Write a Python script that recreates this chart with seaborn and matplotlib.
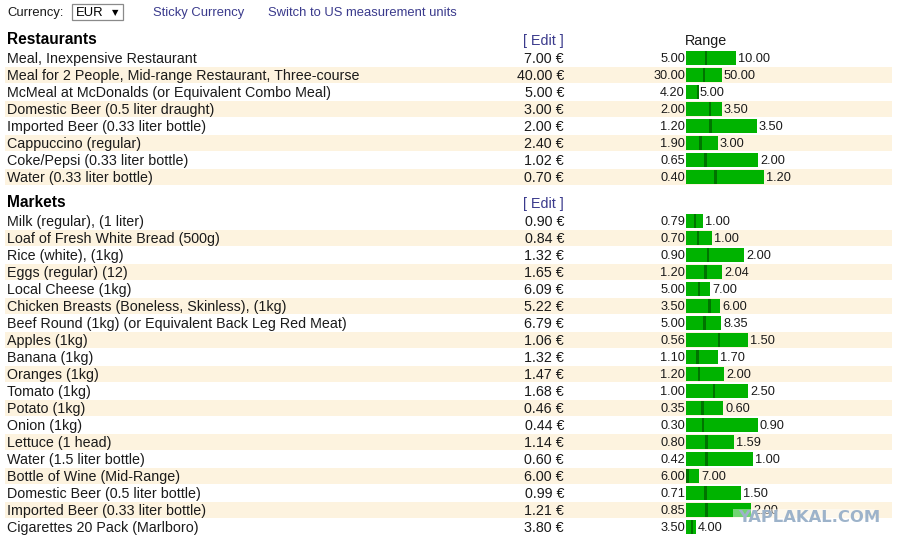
import matplotlib
matplotlib.use("Agg")
import matplotlib.pyplot as plt
import seaborn as sns
import numpy as np
import pandas as pd
from matplotlib.patches import Rectangle

# ---------------- data ----------------
restaurant_items = [
    "Meal, Inexpensive Restaurant",
    "Meal for 2 People, Mid-range Restaurant, Three-course",
    "McMeal at McDonalds (or Equivalent Combo Meal)",
    "Domestic Beer (0.5 liter draught)",
    "Imported Beer (0.33 liter bottle)",
    "Cappuccino (regular)",
    "Coke/Pepsi (0.33 liter bottle)",
    "Water (0.33 liter bottle)",
]
restaurant_price = [7.00, 40.00, 5.00, 3.00, 2.00, 2.40, 1.02, 0.70]
restaurant_low = [5.00, 30.00, 4.20, 2.00, 1.20, 1.90, 0.65, 0.40]
restaurant_high = [10.00, 50.00, 5.00, 3.50, 3.50, 3.00, 2.00, 1.20]
# relative spread of the range bar
restaurant_spread = [50, 36, 12, 36, 71, 32, 72, 78]

market_items = [
    "Milk (regular), (1 liter)",
    "Loaf of Fresh White Bread (500g)",
    "Rice (white), (1kg)",
    "Eggs (regular) (12)",
    "Local Cheese (1kg)",
    "Chicken Breasts (Boneless, Skinless), (1kg)",
    "Beef Round (1kg) (or Equivalent Back Leg Red Meat)",
    "Apples (1kg)",
    "Banana (1kg)",
    "Oranges (1kg)",
    "Tomato (1kg)",
    "Potato (1kg)",
    "Onion (1kg)",
    "Lettuce (1 head)",
    "Water (1.5 liter bottle)",
    "Bottle of Wine (Mid-Range)",
    "Domestic Beer (0.5 liter bottle)",
    "Imported Beer (0.33 liter bottle)",
    "Cigarettes 20 Pack (Marlboro)",
]
market_price = [0.90, 0.84, 1.32, 1.65, 6.09, 5.22, 6.79, 1.06, 1.32, 1.47,
                1.68, 0.46, 0.44, 1.14, 0.60, 6.00, 0.99, 1.21, 3.80]
market_low = [0.79, 0.70, 0.90, 1.20, 5.00, 3.50, 5.00, 0.56, 1.10, 1.20,
              1.00, 0.35, 0.30, 0.80, 0.42, 6.00, 0.71, 0.85, 3.50]
market_high = [1.00, 1.00, 2.00, 2.04, 7.00, 6.00, 8.35, 1.50, 1.70, 2.00,
               2.50, 0.60, 0.90, 1.59, 1.00, 7.00, 1.50, 2.00, 4.00]
market_spread = [17, 26, 58, 36, 24, 34, 35, 62, 32, 38,
                 62, 37, 72, 48, 67, 13, 55, 65, 10]

section_titles = ["Restaurants", "Markets"]
currency = "EUR"
top_links = ["Sticky Currency", "Switch to US measurement units"]
watermark = "YAPLAKAL.COM"

# ---------------- style ----------------
sns.set_theme(style="white")
plt.rcParams["font.family"] = ["Liberation Sans", "DejaVu Sans"]

W, H = 902, 548
fig = plt.figure(figsize=(W / 100, H / 100), dpi=100)
fig.patch.set_facecolor("white")
ax = fig.add_axes([0, 0, 1, 1])
ax.set_xlim(0, W)
ax.set_ylim(H, 0)
ax.axis("off")

TXT = "#1a1a1a"
LINK = "#3a3a8c"
STRIPE = "#fdf3df"
GREEN = "#00b300"
DARK = "#007400"
FS_TOP = 9.4
FS = 10.3
FS_SMALL = 9.2
FS_HEAD = 11.2
DY = 1.2

ROW_H = 17
X_LABEL = 7
X_PRICE = 564
X_BAR = 686
BAR_H = 13.5

# header controls
ax.text(X_LABEL, 12 + DY, "Currency:", fontsize=FS_TOP, color=TXT, va="center", ha="left")
ax.add_patch(Rectangle((72, 4), 51, 16, facecolor="white", edgecolor="#8a8a8a", lw=0.9))
ax.text(76, 12 + DY, currency, fontsize=FS_TOP, color="black", va="center", ha="left")
ax.text(115.5, 12.5, "\u25bc", fontsize=6, color="black", va="center", ha="center",
        family=["DejaVu Sans"])
ax.text(153, 12 + DY, top_links[0], fontsize=FS_TOP, color=LINK, va="center", ha="left")
ax.text(268, 12 + DY, top_links[1], fontsize=FS_TOP, color=LINK, va="center", ha="left")

sections = [
    (restaurant_items, restaurant_price, restaurant_low, restaurant_high, restaurant_spread, 39, 58),
    (market_items, market_price, market_low, market_high, market_spread, 202, 221),
]

rows = []
for s, (items, price, low, high, spread, y_head, y0) in enumerate(sections):
    ax.text(X_LABEL, y_head + 0.5, section_titles[s], fontsize=FS_HEAD, fontweight="bold",
            color="black", va="center", ha="left")
    ax.text(X_PRICE, y_head + 1 + DY, "[ Edit ]", fontsize=FS, color=LINK, va="center", ha="right")
    if s == 0:
        ax.text(706, y_head + 1 + DY, "Range", fontsize=FS, color=TXT, va="center", ha="center")
    for i, name in enumerate(items):
        y = y0 + i * ROW_H
        rows.append(dict(y=y, low=low[i], high=high[i], avg=price[i], spread=spread[i]))
        if i % 2 == 1:
            ax.add_patch(Rectangle((5, y - 8), 887, 16, facecolor=STRIPE, edgecolor="none", zorder=0))
        ax.text(X_LABEL, y + DY, name, fontsize=FS, color=TXT, va="center", ha="left")
        ax.text(X_PRICE, y + DY, f"{price[i]:.2f} \u20ac", fontsize=FS, color=TXT, va="center", ha="right")
        ax.text(X_BAR - 1, y + DY, f"{low[i]:.2f}", fontsize=FS_SMALL, color=TXT, va="center", ha="right")
        ax.text(X_BAR + spread[i] + 2, y + DY, f"{high[i]:.2f}", fontsize=FS_SMALL, color=TXT,
                va="center", ha="left")

df = pd.DataFrame(rows)
df["frac"] = (df["avg"] - df["low"]) / (df["high"] - df["low"])
df["mark"] = df["frac"] * df["spread"]

# range bars on their own axes, starting at the bar origin
axb = fig.add_axes([X_BAR / W, 0, (W - X_BAR) / W, 1])
axb.patch.set_alpha(0)
sns.barplot(data=df, x="spread", y="y", orient="h", native_scale=True,
            width=BAR_H / ROW_H, color=GREEN, saturation=1, linewidth=0, ax=axb)
axb.barh(df["y"], 2.6, left=np.clip(df["mark"] - 1.3, 0, None), height=BAR_H,
         color=DARK, linewidth=0)
axb.set_xlim(0, W - X_BAR)
axb.set_ylim(H, 0)
axb.axis("off")

# watermark
axw = fig.add_axes([0, 0, 1, 1])
axw.set_xlim(0, W)
axw.set_ylim(H, 0)
axw.patch.set_alpha(0)
axw.axis("off")
axw.add_patch(Rectangle((733, 509), 142, 16, facecolor="white", edgecolor="none", alpha=0.45))
axw.text(809, 517.5, watermark, fontsize=11.8, fontweight="bold", color="#9db3ca",
         va="center", ha="center", family=["DejaVu Sans"])

fig.savefig("out.png", dpi=100)
